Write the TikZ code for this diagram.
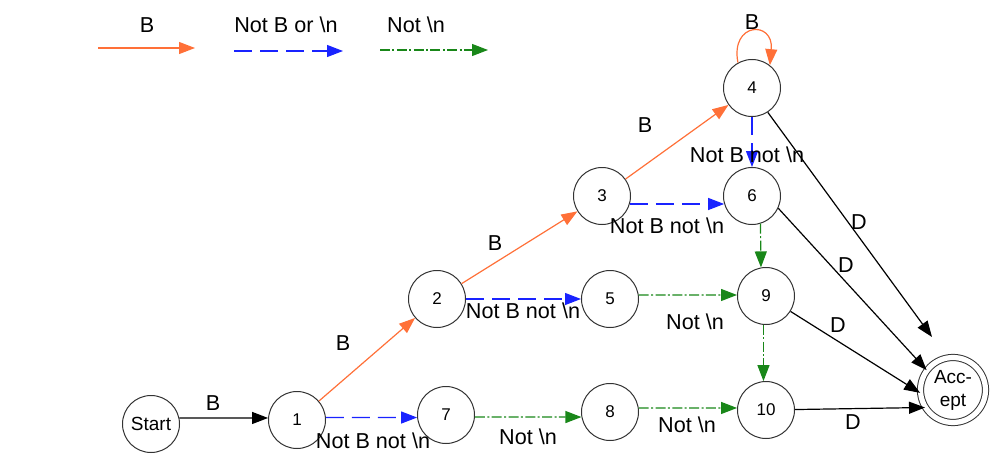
\documentclass[tikz,border=0pt]{standalone}
\usepackage{fontspec}
\setmainfont{Liberation Sans}
\usetikzlibrary{arrows.meta}
\definecolor{orng}{RGB}{255,112,56}
\definecolor{blu}{RGB}{25,35,255}
\definecolor{grn}{RGB}{25,135,25}
\begin{document}
\begin{tikzpicture}[x=0.5pt,y=-0.5pt,
  st/.style={circle,draw=black!80,line width=0.5pt,minimum size=28.5pt,inner sep=0pt,font=\fontsize{8.5}{10}\selectfont},
  lbl/.style={font=\fontsize{10.8}{12}\selectfont,inner sep=0pt},
  tip/.style={-{Triangle[length=8pt,width=6pt]}},
  oE/.style={tip,draw=orng,line width=0.6pt},
  bE/.style={tip,draw=blu,line width=0.6pt,dash pattern=on 9pt off 4pt},
  gE/.style={tip,draw=grn,line width=0.6pt,dash pattern=on 5pt off 1.2pt on 1pt off 1.2pt},
  kE/.style={tip,draw=black,line width=0.6pt}]
\useasboundingbox (0,0) rectangle (1008,466);
% legend
\coordinate (lo1) at (98,48);  \coordinate (lo2) at (195,48);
\coordinate (lb1) at (234,51); \coordinate (lb2) at (343,51);
\coordinate (lg1) at (380,50); \coordinate (lg2) at (488,50);
\draw[oE] (lo1) -- (lo2);
\draw[bE] (lb1) -- (lb2);
\draw[gE] (lg1) -- (lg2);
\node[lbl] (tl1) at (147,25) {B};
\node[lbl] (tl2) at (286,25) {Not B or \textbackslash n};
\node[lbl] (tl3) at (416,25) {Not \textbackslash n};
% states
\node[st,font=\fontsize{9.5}{11}\selectfont] (s) at (151,424) {Start};
\node[st] (n1) at (297,420) {1};
\node[st] (n2) at (437,299) {2};
\node[st] (n3) at (602,196) {3};
\node[st] (n4) at (752,88) {4};
\node[st] (n5) at (610,299) {5};
\node[st] (n6) at (752,196) {6};
\node[st] (n7) at (446,415) {7};
\node[st] (n8) at (610,412) {8};
\node[st] (n9) at (766,296) {9};
\node[st] (n10) at (766,410) {10};
\node[circle,draw=black!80,line width=0.5pt,double,double distance=2.6pt,minimum size=32.5pt,inner sep=0pt,
      align=center,font=\fontsize{9.5}{11.5}\selectfont] (acc) at (953,390) {Acc-\\ept};
% edges
\draw[kE] (s.12) -- (n1.176);
\draw[oE] (n1) -- (n2);
\draw[oE] (n2) -- (n3);
\draw[oE] (n3) -- (n4);
\draw[oE] (n4.119) .. controls (730,22) and (774,20) .. (n4.52);
\draw[bE] (n1.5) -- (n7.185);
\draw[bE] (n2) -- (n5);
\draw[bE] (n3.-16) -- (n6.196);
\draw[bE] (n4) -- (n6);
\draw[gE] (n7.-4) -- (n8.190);
\draw[gE] (n5.8) -- (n9.178);
\draw[gE] (n8.8) -- (n10.176);
\draw[gE] (n6.-73) -- (n9.100);
\draw[gE] (n9.265) -- (n10.95);
\coordinate (e4) at (932,337);
\draw[kE] (n4.-57) -- (e4);
\draw[kE] (n6.-25) -- (acc.143);
\draw[kE] (n9) -- (acc.185);
\draw[kE] (n10) -- (acc.212);
% labels
\node[lbl] (l1) at (213,403) {B};
\node[lbl] (l2) at (343,343) {B};
\node[lbl] (l3) at (495,243) {B};
\node[lbl] (l4) at (645,125) {B};
\node[lbl] (l5) at (752,22) {B};
\node[lbl] (l6) at (373,441) {Not B not \textbackslash n};
\node[lbl] (l7) at (528,437) {Not \textbackslash n};
\node[lbl] (l8) at (687,425) {Not \textbackslash n};
\node[lbl] (l9) at (523,311) {Not B not \textbackslash n};
\node[lbl] (l10) at (695,322) {Not \textbackslash n};
\node[lbl] (l11) at (667,226) {Not B not \textbackslash n};
\node[lbl] (l12) at (747,155) {Not B not \textbackslash n};
\node[lbl] (d1) at (859,222) {D};
\node[lbl] (d2) at (846,265) {D};
\node[lbl] (d3) at (838,325) {D};
\node[lbl] (d4) at (853,422) {D};
\end{tikzpicture}
\end{document}
